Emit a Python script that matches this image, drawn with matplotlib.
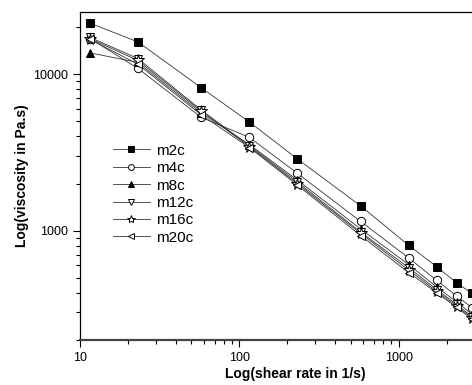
import matplotlib
matplotlib.use("Agg")
import matplotlib.pyplot as plt

plt.rcParams['font.family'] = ['Liberation Sans', 'DejaVu Sans']

# shear rate (1/s)
shear_rate = [11.56, 23.1, 57.7, 115.6, 231, 577, 1156, 1733, 2310, 2888]

# viscosity (Pa.s) per sample
m2c = [21200, 16100, 8200, 4950, 2880, 1440, 806, 588, 464, 397]
m4c = [16900, 10900, 5300, 3950, 2330, 1146, 670, 481, 382, 322]
m8c = [13700, 11900, 5650, 3550, 2110, 1025, 607, 436, 351, 292]
m12c = [17200, 12600, 5900, 3500, 2050, 980, 580, 420, 338, 282]
m16c = [16900, 12250, 5800, 3450, 2000, 960, 560, 410, 330, 277]
m20c = [16700, 11600, 5500, 3400, 1960, 930, 540, 401, 324, 271]

series = [
    ('m2c', m2c, 's', 'black'),
    ('m4c', m4c, 'o', 'white'),
    ('m8c', m8c, '^', 'black'),
    ('m12c', m12c, 'v', 'white'),
    ('m16c', m16c, '*', 'white'),
    ('m20c', m20c, '<', 'white'),
]

fig = plt.figure(figsize=(4.72, 3.85), dpi=100)
# axes run past the right edge of the picture (cropped like the original)
ax = fig.add_axes([80 / 472, 45 / 385, 430 / 472, 328 / 385])

for name, vals, marker, face in series:
    ms = 8.5 if marker == '*' else 6
    ax.plot(shear_rate, vals, color='#333333', linewidth=0.6,
            marker=marker, markersize=ms, markerfacecolor=face,
            markeredgecolor='black', markeredgewidth=0.7, label=name,
            clip_on=False)

ax.set_xscale('log')
ax.set_yscale('log')
ax.set_xlim(10, 5000)
ax.set_ylim(200, 25000)

ax.set_xticks([10, 100, 1000])
ax.set_xticklabels(['10', '100', '1000'])
ax.set_yticks([1000, 10000])
ax.set_yticklabels(['1000', '10000'])
ax.tick_params(which='major', direction='out', length=5, width=0.8, labelsize=9)
ax.tick_params(which='minor', direction='out', length=3, width=0.8)
ax.tick_params(axis='y', which='minor', labelleft=False)
ax.tick_params(axis='x', which='minor', labelbottom=False)

ax.spines['bottom'].set_linewidth(1.6)
ax.spines['bottom'].set_color('#444444')
for s in ['left', 'top', 'right']:
    ax.spines[s].set_linewidth(0.9)

ax.set_xlabel('Log(shear rate in 1/s)', fontsize=10, fontweight='bold', labelpad=2)
ax.set_ylabel('Log(viscosity in Pa.s)', fontsize=10, fontweight='bold', labelpad=3)

ax.legend(loc='upper left', bbox_to_anchor=(0.045, 0.64), frameon=False,
          fontsize=11, handlelength=2.4, markerscale=0.7, labelspacing=0.22,
          handletextpad=0.4)

fig.savefig('out.png', dpi=100)
